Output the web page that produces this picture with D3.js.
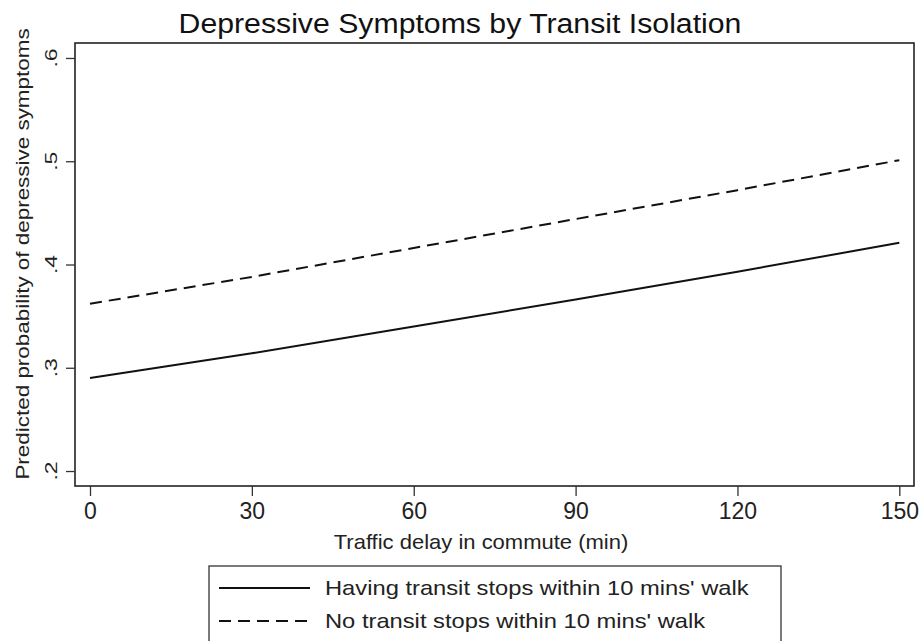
<!DOCTYPE html>
<html>
<head>
<meta charset="utf-8">
<script src="https://cdn.jsdelivr.net/npm/d3@7"></script>
<style>
  html, body { margin: 0; padding: 0; background: #fff; }
  svg { display: block; font-family: "Liberation Sans", Arial, sans-serif; }
</style>
</head>
<body>
<svg id="chart" width="921" height="641"></svg>
<script>
// Data
const delays = [0, 30, 60, 90, 120, 150];
const withTransit = [0.290, 0.314, 0.340, 0.366, 0.393, 0.421];
const noTransit = [0.362, 0.388, 0.416, 0.444, 0.472, 0.501];
const xTicks = [0, 30, 60, 90, 120, 150];
const yTicks = [0.2, 0.3, 0.4, 0.5, 0.6];
const yTickLabels = [".2", ".3", ".4", ".5", ".6"];
const seriesNames = ["Having transit stops within 10 mins' walk", "No transit stops within 10 mins' walk"];

const svg = d3.select("#chart");
const mLeft = 75, mRight = 914, mTop = 43, mBottom = 486;

const x = d3.scaleLinear().domain([-2.78, 152.72]).range([mLeft, mRight]);
const y = d3.scaleLinear().domain([0.1855, 0.6145]).range([mBottom, mTop]);

// Title
svg.append("text")
  .attr("transform", "translate(460,33) scale(1.12,1)")
  .attr("text-anchor", "middle")
  .attr("font-size", 27)
  .attr("fill", "#111")
  .text("Depressive Symptoms by Transit Isolation");

// Lines
const line = d3.line().x((d, i) => x(delays[i])).y(d => y(d));
svg.append("path").datum(withTransit)
  .attr("d", line).attr("fill", "none").attr("stroke", "#111").attr("stroke-width", 2);
svg.append("path").datum(noTransit)
  .attr("d", line).attr("fill", "none").attr("stroke", "#111").attr("stroke-width", 2)
  .attr("stroke-dasharray", "12,7");

// Frame
svg.append("rect")
  .attr("x", mLeft).attr("y", mTop).attr("width", mRight - mLeft).attr("height", mBottom - mTop)
  .attr("fill", "none").attr("stroke", "#222").attr("stroke-width", 1.6);

// X axis
const xAxis = d3.axisBottom(x).tickValues(xTicks).tickSize(10).tickPadding(7).tickFormat(d3.format("d"));
const gx = svg.append("g").attr("transform", `translate(0,${mBottom})`).call(xAxis);
gx.select(".domain").remove();
gx.selectAll(".tick line").attr("stroke", "#333").attr("stroke-width", 1.3);
gx.selectAll(".tick text").attr("font-size", 23).attr("fill", "#222")
  .attr("font-family", "Liberation Sans, Arial, sans-serif");

// Y axis (ticks only; labels drawn rotated below)
const yAxis = d3.axisLeft(y).tickValues(yTicks).tickSize(9).tickFormat("");
const gy = svg.append("g").attr("transform", `translate(${mLeft},0)`).call(yAxis);
gy.select(".domain").remove();
gy.selectAll(".tick line").attr("stroke", "#333").attr("stroke-width", 1.3);
gy.selectAll(".tick text").remove();

svg.append("g").selectAll("text.ylab")
  .data(yTicks)
  .join("text")
  .attr("class", "ylab")
  .attr("transform", d => `translate(56.5,${y(d)}) rotate(-90) scale(1,0.72)`)
  .attr("text-anchor", "middle")
  .attr("font-size", 23)
  .attr("fill", "#222")
  .text((d, i) => yTickLabels[i]);

// Axis titles
svg.append("text")
  .attr("transform", "translate(481,549) scale(1.1,1)")
  .attr("text-anchor", "middle")
  .attr("font-size", 20).attr("fill", "#222")
  .text("Traffic delay in commute (min)");

svg.append("text")
  .attr("transform", "translate(29,254) rotate(-90) scale(1.02,0.85)")
  .attr("text-anchor", "middle")
  .attr("font-size", 22).attr("fill", "#222")
  .text("Predicted probability of depressive symptoms");

// Legend
const lg = svg.append("g");
lg.append("rect")
  .attr("x", 209).attr("y", 566).attr("width", 572).attr("height", 100)
  .attr("fill", "#fff").attr("stroke", "#333").attr("stroke-width", 1.3);
const rowsY = [588, 621];
seriesNames.forEach((name, i) => {
  lg.append("line")
    .attr("x1", 219).attr("x2", 310).attr("y1", rowsY[i]).attr("y2", rowsY[i])
    .attr("stroke", "#111").attr("stroke-width", 2)
    .attr("stroke-dasharray", i === 1 ? "12,7" : null);
  lg.append("text")
    .attr("transform", `translate(325,${rowsY[i] + 7}) scale(1.13,1)`)
    .attr("font-size", 21).attr("fill", "#222")
    .text(name);
});
</script>
</body>
</html>
